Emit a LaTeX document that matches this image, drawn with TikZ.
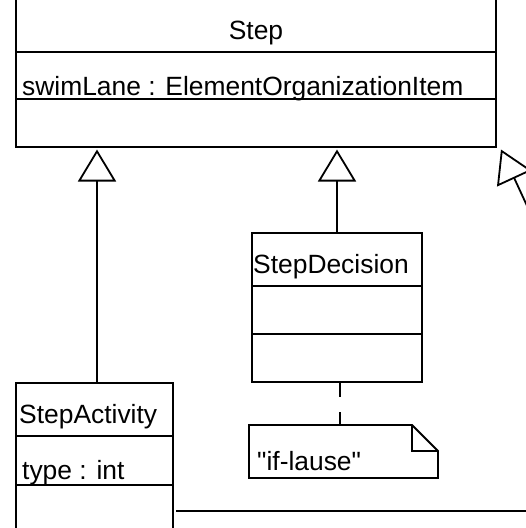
\documentclass[tikz,border=0pt]{standalone}
\usepackage{fontspec}
\newfontfamily\umlfont{Liberation Sans}
\usetikzlibrary{arrows.meta, positioning}

\tikzset{
  compart/.style={draw, line width=1.8pt, inner sep=0pt, outer sep=0pt},
  umltext/.style={font={\umlfont\fontsize{26.4}{30}\selectfont}, inner sep=0pt, anchor=base west},
  inherit/.style={line width=1.8pt, -{Triangle[open, length=32pt, width=38pt]}},
  notelink/.style={line width=1.8pt, dash pattern=on 15pt off 15pt},
}

\begin{document}
\begin{tikzpicture}[x=1pt, y=-1pt]
    \useasboundingbox (0,0) rectangle (526,528);
    \clip (0,0) rectangle (526,528);

    % Step
    \node[compart, minimum width=480pt, minimum height=55pt, anchor=north west] (stepname) at (16,-3) {};
    \node[compart, minimum width=480pt, minimum height=47pt, below=0pt of stepname] (stepattr) {};
    \node[compart, minimum width=480pt, minimum height=48pt, below=0pt of stepattr] (stepops) {};
    \node[umltext, anchor=base] (steptitle) at ([yshift=13pt]stepname.south) {Step};
    \node[umltext] (swimlane) at ([xshift=6pt, yshift=4pt]stepattr.south west) {swimLane : ElementOrganizationItem};

    % StepDecision
    \node[compart, minimum width=170pt, minimum height=53pt, anchor=north west] (decname) at (252,233) {};
    \node[compart, minimum width=170pt, minimum height=48pt, below=0pt of decname] (decattr) {};
    \node[compart, minimum width=170pt, minimum height=48pt, below=0pt of decattr] (decops) {};
    \node[umltext] (dectitle) at ([xshift=1pt, yshift=13pt]decname.south west) {StepDecision};

    % StepActivity
    \node[compart, minimum width=157pt, minimum height=53pt, anchor=north west] (actname) at (16,383) {};
    \node[compart, minimum width=157pt, minimum height=49pt, below=0pt of actname] (actattr) {};
    \node[compart, minimum width=157pt, minimum height=52pt, below=0pt of actattr] (actops) {};
    \node[umltext] (acttitle) at ([xshift=3pt, yshift=13pt]actname.south west) {StepActivity};
    \node[umltext] (acttype) at ([xshift=6pt, yshift=6pt]actattr.south west) {type : int};

    % note
    \node[inner sep=0pt, outer sep=0pt, minimum width=189pt, minimum height=53pt] (ifnote) at (343.5,451.5) {};
    \draw[line width=1.8pt] (ifnote.south west) -- (ifnote.north west) -- ([xshift=-26pt]ifnote.north east)
        -- ([yshift=-26pt]ifnote.north east) -- (ifnote.south east) -- cycle;
    \draw[line width=1.8pt] ([xshift=-26pt]ifnote.north east) |- ([yshift=-26pt]ifnote.north east);
    \node[umltext] (notetext) at ([xshift=8pt, yshift=8pt]ifnote.south west) {"if-lause"};

    % links
    \draw[inherit] ([xshift=2.5pt]actname.north) -- ([xshift=2.5pt, yshift=-2.5pt]actname.north |- stepops.south);
    \draw[inherit] (decname.north) -- ([yshift=-2.5pt]decname.north |- stepops.south);
    \draw[notelink] ([xshift=3pt]decops.south) -- ([xshift=3pt]decops.south |- ifnote.north);

    \coordinate (bend) at (668,511);
    \coordinate (stephook) at ([xshift=5pt, yshift=-2.5pt]stepops.south east);
    \draw[inherit] ([xshift=3pt]actops.east) -- (bend) -- (stephook);
\end{tikzpicture}
\end{document}
